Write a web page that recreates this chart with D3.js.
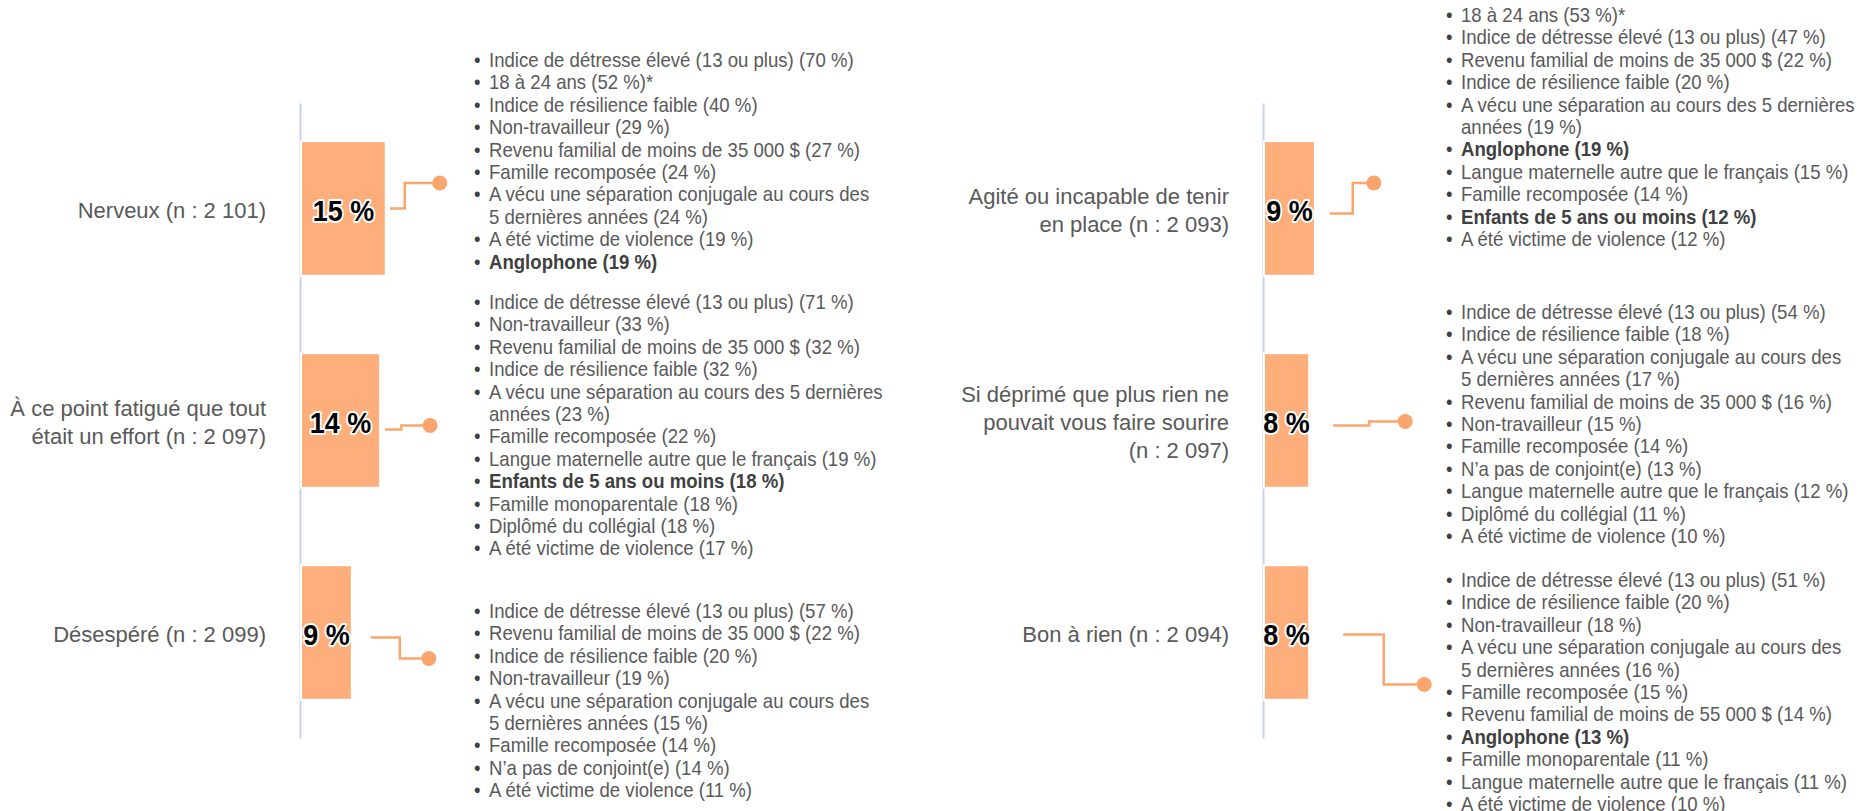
<!DOCTYPE html>
<html lang="fr">
<head>
<meta charset="utf-8">
<title>Symptômes et facteurs associés</title>
<script src="https://d3js.org/d3.v7.min.js"></script>
<style>
body{margin:0;background:#fff;font-family:Arial,"Liberation Sans",sans-serif;}
</style>
</head>
<body>
<div id="chart"></div>
<script>
// categories (left panel: 0-2, right panel: 3-5)
const categories = [
    "Nerveux (n : 2 101)",
    "À ce point fatigué que tout\nétait un effort (n : 2 097)",
    "Désespéré (n : 2 099)",
    "Agité ou incapable de tenir\nen place (n : 2 093)",
    "Si déprimé que plus rien ne\npouvait vous faire sourire\n(n : 2 097)",
    "Bon à rien (n : 2 094)"
]
const values = [15, 14, 9, 9, 8, 8]

// associated factors: [label, percent, note]
const factorsNerveux = [
    ["Indice de détresse élevé (13 ou plus)", 70],
    ["18 à 24 ans", 52, "*"],
    ["Indice de résilience faible", 40],
    ["Non-travailleur", 29],
    ["Revenu familial de moins de 35 000 $", 27],
    ["Famille recomposée", 24],
    ["A vécu une séparation conjugale au cours des\n5 dernières années", 24],
    ["A été victime de violence", 19],
    ["Anglophone", 19]
]
const factorsFatigue = [
    ["Indice de détresse élevé (13 ou plus)", 71],
    ["Non-travailleur", 33],
    ["Revenu familial de moins de 35 000 $", 32],
    ["Indice de résilience faible", 32],
    ["A vécu une séparation au cours des 5 dernières\nannées", 23],
    ["Famille recomposée", 22],
    ["Langue maternelle autre que le français", 19],
    ["Enfants de 5 ans ou moins", 18],
    ["Famille monoparentale", 18],
    ["Diplômé du collégial", 18],
    ["A été victime de violence", 17]
]
const factorsDesespere = [
    ["Indice de détresse élevé (13 ou plus)", 57],
    ["Revenu familial de moins de 35 000 $", 22],
    ["Indice de résilience faible", 20],
    ["Non-travailleur", 19],
    ["A vécu une séparation conjugale au cours des\n5 dernières années", 15],
    ["Famille recomposée", 14],
    ["N’a pas de conjoint(e)", 14],
    ["A été victime de violence", 11]
]
const factorsAgite = [
    ["18 à 24 ans", 53, "*"],
    ["Indice de détresse élevé (13 ou plus)", 47],
    ["Revenu familial de moins de 35 000 $", 22],
    ["Indice de résilience faible", 20],
    ["A vécu une séparation au cours des 5 dernières\nannées", 19],
    ["Anglophone", 19],
    ["Langue maternelle autre que le français", 15],
    ["Famille recomposée", 14],
    ["Enfants de 5 ans ou moins", 12],
    ["A été victime de violence", 12]
]
const factorsDeprime = [
    ["Indice de détresse élevé (13 ou plus)", 54],
    ["Indice de résilience faible", 18],
    ["A vécu une séparation conjugale au cours des\n5 dernières années", 17],
    ["Revenu familial de moins de 35 000 $", 16],
    ["Non-travailleur", 15],
    ["Famille recomposée", 14],
    ["N’a pas de conjoint(e)", 13],
    ["Langue maternelle autre que le français", 12],
    ["Diplômé du collégial", 11],
    ["A été victime de violence", 10]
]
const factorsBonARien = [
    ["Indice de détresse élevé (13 ou plus)", 51],
    ["Indice de résilience faible", 20],
    ["Non-travailleur", 18],
    ["A vécu une séparation conjugale au cours des\n5 dernières années", 16],
    ["Famille recomposée", 15],
    ["Revenu familial de moins de 55 000 $", 14],
    ["Anglophone", 13],
    ["Famille monoparentale", 11],
    ["Langue maternelle autre que le français", 11],
    ["A été victime de violence", 10]
]
const factorLists = [factorsNerveux, factorsFatigue, factorsDesespere, factorsAgite, factorsDeprime, factorsBonARien]
const boldFactors = ["Anglophone", "Enfants de 5 ans ou moins"]

// layout only
const panels = [[0, 1, 2], [3, 4, 5]]
const panelX = [300, 1263]
const listX = [174, 183]
const listTop = [60, 302, 611, 15, 312, 580]
const connGap = [4, 5, 19, 15, 24, 34]
const connLen = [50, 45, 58, 44, 72, 81]
const connElbow = [0.3, 0.36, 0.5, 0.52, 0.5, 0.5]
const connY0 = [0, 9, 5, 5, 5, 2]
const connY1 = [-25.5, 5, 26, -25.5, 1, 52]

const w = 1874
const h = 811
const lineH = 22.4
const squeeze = 0.93 // text in the source is slightly condensed

const svg = d3.select("#chart").append("svg")
    .attr("width", w)
    .attr("height", h)

const xScale = d3.scaleLinear().domain([0, 100]).range([0, 565])

panels.forEach(function(idx, p){
    const g = svg.append("g").attr("transform", "translate(" + panelX[p] + ",0)")
    const yScale = d3.scaleBand().domain(idx).range([103, 738]).paddingInner(0.365).paddingOuter(0.18)
    const mid = function(d){ return yScale(d) + yScale.bandwidth() / 2 }

    const axis = g.append("g").call(d3.axisLeft(yScale).tickSize(0).tickFormat(""))
    axis.select(".domain").attr("stroke", "#c9d1ec").attr("stroke-width", 2)

    g.selectAll("rect.bar")
        .data(idx)
        .join("rect")
        .attr("class", "bar")
        .attr("x", 1)
        .attr("y", function(d){ return yScale(d) })
        .attr("width", function(d){ return xScale(values[d]) })
        .attr("height", yScale.bandwidth())
        .attr("fill", "#fdae7a")
        .attr("stroke", "#fff")
        .attr("stroke-width", 2)

    // category labels
    g.selectAll("text.cat")
        .data(idx)
        .join("text")
        .attr("class", "cat")
        .attr("text-anchor", "end")
        .attr("font-size", 22)
        .attr("fill", "#595959")
        .each(function(d){
            const lines = categories[d].split("\n")
            d3.select(this).selectAll("tspan")
                .data(lines)
                .join("tspan")
                .attr("x", -34)
                .attr("y", function(l, i){ return mid(d) + 2 + (i - (lines.length - 1) / 2) * 28 })
                .attr("dy", "0.35em")
                .text(function(l){ return l })
        })

    // value labels
    g.selectAll("text.val")
        .data(idx)
        .join("text")
        .attr("class", "val")
        .attr("transform", function(d){
            return "translate(" + (1 + xScale(values[d]) / 2) + "," + (mid(d) + 2) + ") scale(0.9,1)"
        })
        .attr("dy", "0.35em")
        .attr("text-anchor", "middle")
        .attr("font-size", 30)
        .attr("font-weight", "bold")
        .attr("fill", "#000")
        .attr("stroke", "#fff")
        .attr("stroke-width", 4)
        .attr("stroke-linejoin", "round")
        .attr("paint-order", "stroke")
        .text(function(d){ return values[d] + " %" })

    // connectors
    const line = d3.line()
    idx.forEach(function(d){
        const x0 = 1 + xScale(values[d]) + connGap[d]
        const x2 = x0 + connLen[d]
        const x1 = x0 + connLen[d] * connElbow[d]
        const y0 = mid(d) + connY0[d]
        const y1 = mid(d) + connY1[d]
        g.append("path")
            .attr("d", line([[x0, y0], [x1, y0], [x1, y1], [x2, y1]]))
            .attr("fill", "none")
            .attr("stroke", "#f9a56d")
            .attr("stroke-width", 2.5)
        g.append("circle")
            .attr("cx", x2)
            .attr("cy", y1)
            .attr("r", 7.5)
            .attr("fill", "#f9a56d")
    })

    // factor lists
    idx.forEach(function(d){
        const rows = []
        factorLists[d].forEach(function(f){
            const txt = f[0] + " (" + f[1] + " %)" + (f[2] || "")
            const bold = boldFactors.indexOf(f[0]) >= 0
            txt.split("\n").forEach(function(part, k){
                rows.push({text: part, bold: bold, first: k == 0})
            })
        })
        const lg = g.append("g")
            .attr("transform", "translate(" + listX[p] + "," + listTop[d] + ") scale(" + squeeze + ",1)")
        lg.selectAll("text.bullet")
            .data(rows.filter(function(r){ return r.first }))
            .join("text")
            .attr("class", "bullet")
            .attr("x", 0)
            .attr("y", function(r){ return rows.indexOf(r) * lineH })
            .attr("dy", "0.35em")
            .attr("font-size", 20)
            .attr("fill", "#404040")
            .text("•")
        lg.selectAll("text.item")
            .data(rows)
            .join("text")
            .attr("class", "item")
            .attr("x", 15 / squeeze)
            .attr("y", function(r, i){ return i * lineH })
            .attr("dy", "0.35em")
            .attr("font-size", 20)
            .attr("font-weight", function(r){ return r.bold ? "bold" : "normal" })
            .attr("fill", function(r){ return r.bold ? "#404040" : "#595959" })
            .text(function(r){ return r.text })
    })
})
</script>
</body>
</html>
